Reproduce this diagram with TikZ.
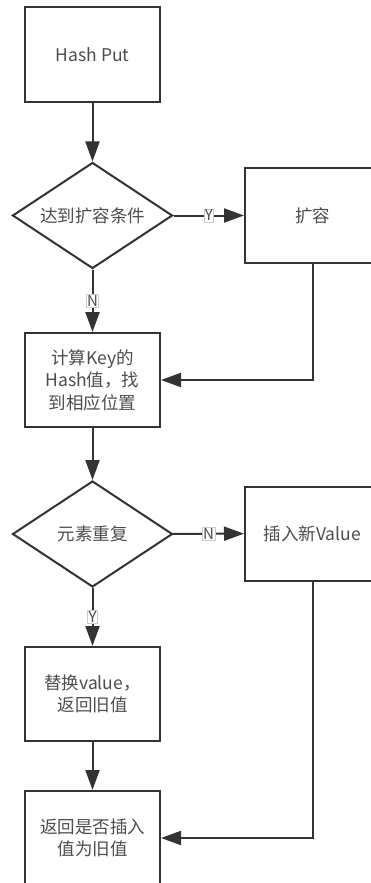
\documentclass[tikz,border=0pt]{standalone}
\usepackage{fontspec}
\newfontfamily\cjk{Noto Sans CJK SC}
\usetikzlibrary{shapes.geometric,arrows.meta}
\definecolor{ln}{HTML}{333333}
\definecolor{tx}{HTML}{4D4D4D}
\begin{document}
\begin{tikzpicture}[x=1pt,y=-1pt,
  txt/.style={text=tx,font=\cjk\fontsize{17.5}{22.5}\selectfont,align=center},
  box/.style={draw=ln,line width=2pt,minimum width=135pt,minimum height=94pt,inner sep=0pt,txt},
  dia/.style={draw=ln,line width=2pt,diamond,minimum width=160pt,minimum height=106pt,inner sep=0pt},
  arr/.style={draw=ln,line width=2pt,-{Triangle[length=20pt,width=14pt]}},
  lab/.style={fill=white,draw=gray!40,line width=0.5pt,inner sep=0.8pt,text=tx,font=\cjk\fontsize{15}{15}\selectfont}]
\useasboundingbox (0,0) rectangle (371,883);
\clip (0,0) rectangle (371,883);
\node[box] (hp) at (92.5,54.5) {Hash Put};
\node[dia,label={[txt]center:达到扩容条件}] (d1) at (92.5,215.5) {};
\node[box,minimum height=95pt] (kr) at (312.5,215.5) {扩容};
\node[box] (calc) at (92.5,380) {计算Key的\\Hash值，找\\到相应位置};
\node[dia,label={[txt]center:元素重复}] (d2) at (92.5,534) {};
\node[box] (ins) at (312.5,533.5) {插入新Value};
\node[box] (rep) at (92.5,694) {替换value，\\返回旧值};
\node[box] (ret) at (92.5,838) {返回是否插入\\值为旧值};
\draw[arr] (hp) -- (d1);
\draw[arr] (d1) -- node[lab]{N} (calc);
\draw[arr] (d1) -- node[lab]{Y} (kr);
\draw[arr] (kr.south) |- (calc.east);
\draw[arr] (calc) -- (d2);
\draw[arr] (d2) -- node[lab]{N} (ins);
\draw[arr] (d2) -- node[lab]{Y} (rep);
\draw[arr] (rep) -- (ret);
\draw[arr] (ins.south) |- (ret.east);
\end{tikzpicture}
\end{document}
